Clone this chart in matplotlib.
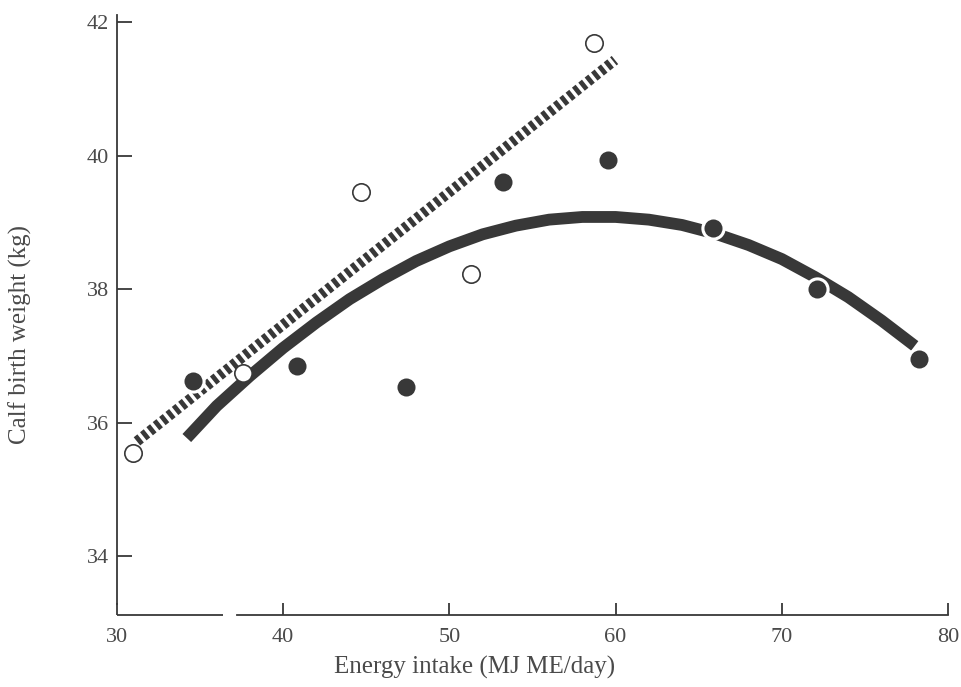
import numpy as np
import matplotlib.pyplot as plt

plt.rcParams['font.family'] = ['Liberation Serif', 'DejaVu Serif']

# open circles: low-energy group
open_x = [30.96, 37.58, 44.68, 51.3, 58.7]
open_y = [35.55, 36.75, 39.45, 38.22, 41.69]

# filled circles
fill_x = [34.57, 40.83, 47.39, 53.23, 59.54, 65.86, 72.12, 78.25]
fill_y = [36.63, 36.85, 36.54, 39.61, 39.93, 38.91, 38.00, 36.96]

# straight regression (dashed)
lin_x = [31.2, 59.96]
lin_y = [35.72, 41.43]

# curved regression (solid)
curve_x = [34.2, 36, 38, 40, 42, 44, 46, 48, 50, 52, 54, 56,
           58, 60, 62, 64, 66, 68, 70, 72, 74, 76, 78]
curve_y = [35.77, 36.25, 36.70, 37.12, 37.50, 37.85, 38.15, 38.42, 38.64, 38.82, 38.95, 39.04,
           39.08, 39.08, 39.04, 38.96, 38.83, 38.66, 38.45, 38.18, 37.88, 37.53, 37.15]

xticks = [30, 40, 50, 60, 70, 80]
yticks = [34, 36, 38, 40, 42]

ink = '#383838'
txt = '#4a4a4a'

fig = plt.figure(figsize=(9.61, 6.87), dpi=100)
ax = fig.add_axes([117/961, 1 - 615/687, 831/961, (615 - 8.6)/687])
ax.set_xlim(30, 80)
ax.set_ylim(33.12, 42.2)

ax.plot(lin_x, lin_y, color=ink, lw=7.5, linestyle=(0, (0.45, 0.33)),
        dash_capstyle='butt', zorder=2)
ax.plot(curve_x, curve_y, color=ink, lw=8.5, solid_capstyle='butt',
        solid_joinstyle='round', zorder=2)

# white halo under the filled dots breaks the curve where they sit
ax.plot(fill_x, fill_y, 'o', ms=17.5, color='white', mec='none', zorder=3)
ax.plot(fill_x, fill_y, 'o', ms=13, color=ink, mec='none', zorder=4)
ax.plot(open_x, open_y, 'o', ms=12.5, mfc='white', mec=ink, mew=1.2, zorder=4)

for s in ['top', 'right']:
    ax.spines[s].set_visible(False)
ax.spines['left'].set_bounds(33.28, 42.1)
ax.spines['bottom'].set_bounds(37.2, 80)
for s in ['left', 'bottom']:
    ax.spines[s].set_color(ink)
    ax.spines[s].set_linewidth(1.3)
# short first piece of the broken x axis
ax.plot([30, 36.35], [33.12, 33.12], color=ink, lw=1.3, clip_on=False,
        solid_capstyle='butt', zorder=5)

ax.set_xticks(xticks)
ax.set_yticks(yticks)
ax.tick_params(axis='x', direction='in', length=9, width=1.3, color=ink,
               pad=9, labelsize=16, labelcolor=txt)
ax.tick_params(axis='y', direction='in', length=11, width=1.3, color=ink,
               pad=6, labelsize=16, labelcolor=txt)

fig.text(475/961, 1 - 667/687, 'Energy intake (MJ ME/day)', ha='center',
         va='center', fontsize=18, color=txt)
fig.text(20/961, 1 - 335/687, 'Calf birth weight (kg)', ha='center',
         va='center', rotation=90, fontsize=18, color=txt)

fig.savefig('out.png', dpi=100)
